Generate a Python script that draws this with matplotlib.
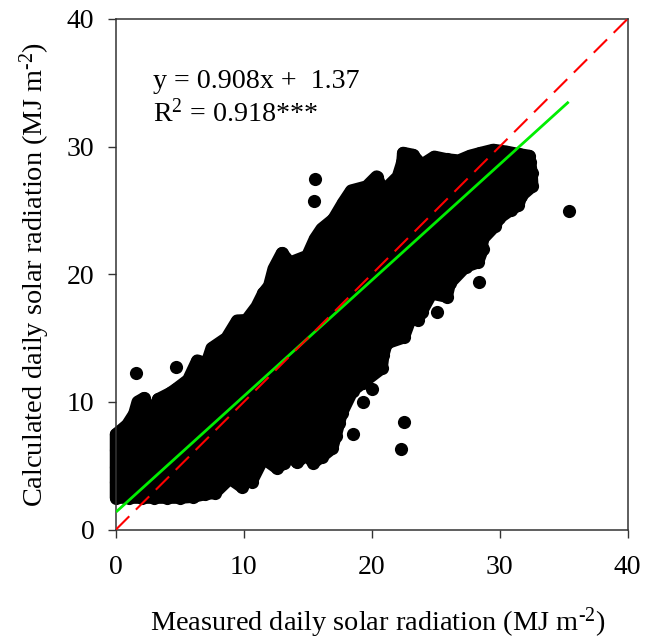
import matplotlib
matplotlib.use("Agg")
import matplotlib.pyplot as plt

plt.rcParams['font.family'] = ['Liberation Serif', 'DejaVu Serif']
plt.rcParams['mathtext.fontset'] = 'custom'
plt.rcParams['mathtext.rm'] = 'Liberation Serif'
plt.rcParams['mathtext.default'] = 'rm'

# Outer edge of the dense cloud (measured, calculated), clockwise from lower left
edge_x = [0, 0, 0, 0, 0, 0.88, 1.43, 1.7, 2.19, 2.79, 3.3, 4.22, 4.69, 5.65, 6.36, 7.09, 7.48,
          8.65, 9.48, 10.2, 11.0, 11.52, 11.98, 12.33, 12.98, 13.6, 14.96, 15.56, 16.08, 17.0,
          17.77, 18.4, 19.6, 20.38, 20.9, 22.05, 22.4, 22.46, 23.2, 23.9, 24.9, 25.85, 26.8,
          27.68, 28.46, 29.5, 30.5, 31.5, 32.3, 32.37, 32.5, 32.55, 31.7, 31.45, 30.86, 29.95,
          29.63, 28.6, 28.67, 28.3, 27.34, 26.1, 25.86, 24.68, 23.9, 23.6, 23.2, 22.5, 21.16,
          20.9, 20.77, 19.3, 18.5, 17.64, 17.43, 17.17, 16.9, 16.08, 15.43, 14.9, 14.13, 13.6,
          13.16, 12.56, 11.52, 10.6, 10.48, 9.83, 8.9, 7.74, 6.96, 6.0, 5.0, 4.0, 3.0, 2.0, 1.0]
edge_y = [2.5, 3.7, 4.9, 6.2, 7.45, 8.19, 9.05, 10.0, 10.28, 8.84, 10.2, 10.67, 10.99, 11.72, 13.23, 13.0, 14.2,
          15.0, 16.36, 16.4, 17.46, 18.5, 19.08, 20.42, 21.65, 20.9, 21.43, 22.77, 23.55, 24.3,
          25.6, 26.55, 26.87, 27.65, 26.5, 27.65, 28.78, 29.5, 29.35, 28.56, 29.2, 29.0, 28.9,
          29.27, 29.48, 29.74, 29.6, 29.4, 29.27, 28.83, 27.9, 26.9, 26.16, 25.4, 25.04, 24.4,
          23.78, 22.69, 21.96, 20.94, 20.6, 19.3, 18.25, 18.5, 17.07, 16.4, 16.97, 15.06, 14.6,
          13.68, 12.63, 11.5, 10.88, 9.1, 8.32, 7.33, 6.36, 5.7, 5.24, 5.84, 5.27, 5.97,
          5.19, 4.84, 5.58, 3.75, 4.4, 3.35, 4.0, 2.88, 2.78, 2.57, 2.5, 2.5, 2.5, 2.5, 2.5]

# Isolated points
solo_x = [1.56, 4.69, 20.0, 19.3, 22.5, 22.3, 18.5, 35.45, 15.53, 15.45, 28.36, 25.1]
solo_y = [12.29, 12.71, 10.99, 10.0, 8.45, 6.3, 7.48, 24.94, 27.44, 25.77, 19.37, 17.05]

fit_x = [0, 35.4]
fit_y = [1.37, 33.51]
one_to_one = [0, 40]
ticks = [0, 10, 20, 30, 40]

fig = plt.figure(figsize=(6.45, 6.43), dpi=100)
ax = fig.add_axes([116/645, 1-529.5/643, 511.5/645, 510.5/643])

ms = 90
ax.fill(edge_x, edge_y, facecolor='black', edgecolor='black', lw=9.0, joinstyle='round',
        zorder=2, clip_on=False)
ax.scatter(edge_x, edge_y, s=ms, color='black', lw=0, zorder=2, clip_on=False)
ax.scatter(solo_x, solo_y, s=ms, color='black', lw=0, zorder=2, clip_on=False)
ax.plot(fit_x, fit_y, color='#00ee00', lw=2.0, zorder=3, solid_capstyle='butt')
ax.plot(one_to_one, one_to_one, color='#ff0000', lw=1.5, dashes=(9, 4.5), zorder=4)

ax.set_xlim(0, 40)
ax.set_ylim(0, 40)
ax.set_xticks(ticks)
ax.set_yticks(ticks)
ax.tick_params(axis='both', which='major', direction='out', length=5.5, width=1.0,
               color='#333333', labelsize=20)
ax.tick_params(axis='x', pad=13)
ax.tick_params(axis='y', pad=10)
for s in ax.spines.values():
    s.set_linewidth(1.1)
    s.set_color('#333333')

ax.set_xlabel(r'Measured daily solar radiation (MJ m$^{\text{-}2}$)', fontsize=20.4)
ax.set_ylabel(r'Calculated daily solar radiation (MJ m$^{\text{-}2}$)', fontsize=20.4)
ax.xaxis.set_label_coords(0.511, -0.148, transform=ax.transAxes)
ax.yaxis.set_label_coords(-0.126, 0.5, transform=ax.transAxes)

ax.text(153/645, 1-88/643, 'y = 0.908x +  1.37', transform=fig.transFigure, fontsize=20.2, va='baseline')
ax.text(153/645, 1-122/643, r'R$^{2}$ = 0.918***', transform=fig.transFigure, fontsize=20.2, va='baseline')

fig.savefig('out.png', dpi=100)
